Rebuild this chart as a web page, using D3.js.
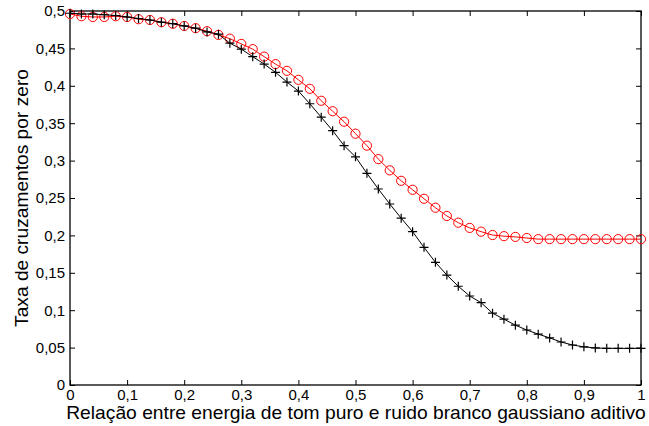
<!DOCTYPE html>
<html>
<head>
<meta charset="utf-8">
<script src="https://cdn.jsdelivr.net/npm/d3@7"></script>
<style>
  body { margin: 0; background: #fff; }
  svg text { font-family: "Liberation Sans", Arial, sans-serif; fill: #000; }
</style>
</head>
<body>
<div id="chart"></div>
<script>
// x values: 0 .. 1 step 0.02
var xValues = [0,0.02,0.04,0.06,0.08,0.1,0.12,0.14,0.16,0.18,0.2,0.22,0.24,0.26,0.28,0.3,0.32,0.34,0.36,0.38,0.4,
  0.42,0.44,0.46,0.48,0.5,0.52,0.54,0.56,0.58,0.6,0.62,0.64,0.66,0.68,0.7,0.72,0.74,0.76,0.78,0.8,
  0.82,0.84,0.86,0.88,0.9,0.92,0.94,0.96,0.98,1];

// red circles
var redValues = [0.496,0.493,0.492,0.492,0.493,0.492,0.489,0.488,0.485,0.483,0.480,0.477,0.473,0.468,0.463,0.456,0.449,0.439,0.429,0.420,0.408,
  0.396,0.380,0.366,0.352,0.336,0.320,0.302,0.287,0.273,0.261,0.249,0.237,0.226,0.217,0.210,0.205,0.2005,0.199,0.198,0.1965,
  0.195,0.195,0.195,0.195,0.195,0.195,0.195,0.195,0.195,0.195];

// black pluses
var blackValues = [0.497,0.496,0.496,0.495,0.494,0.492,0.490,0.488,0.485,0.483,0.480,0.477,0.472,0.469,0.457,0.449,0.439,0.429,0.418,0.405,0.393,
  0.376,0.358,0.340,0.320,0.305,0.283,0.262,0.242,0.223,0.205,0.184,0.164,0.147,0.132,0.119,0.110,0.096,0.088,0.080,0.0735,
  0.068,0.063,0.0575,0.0535,0.051,0.0495,0.049,0.049,0.049,0.049];

var xTicks = [0,0.1,0.2,0.3,0.4,0.5,0.6,0.7,0.8,0.9,1];
var yTicks = [0,0.05,0.1,0.15,0.2,0.25,0.3,0.35,0.4,0.45,0.5];

var xTitle = "Relação entre energia de tom puro e ruido branco gaussiano aditivo";
var yTitle = "Taxa de cruzamentos por zero";

var W = 649, H = 426;
var margin = {top: 11, right: 8, bottom: 41, left: 70};
var width = W - margin.left - margin.right;
var height = H - margin.top - margin.bottom;

var fmt = function(d){ return String(+d.toFixed(2)).replace(".", ","); };

var svg = d3.select("#chart").append("svg")
    .attr("width", W).attr("height", H)
  .append("g")
    .attr("transform", "translate(" + margin.left + "," + margin.top + ")");

var x = d3.scaleLinear().domain([0, 1]).range([0, width]);
var y = d3.scaleLinear().domain([0, 0.5]).range([height, 0]);

// axes: ticks pointing inward, mirrored on top/right
var xAxis = d3.axisBottom(x).tickValues(xTicks).tickFormat(fmt).tickSizeInner(-5).tickSizeOuter(0).tickPadding(6);
var yAxis = d3.axisLeft(y).tickValues(yTicks).tickFormat(fmt).tickSizeInner(-5).tickSizeOuter(0).tickPadding(5);
var xTop = d3.axisTop(x).tickValues(xTicks).tickFormat("").tickSizeInner(-5).tickSizeOuter(0);
var yRight = d3.axisRight(y).tickValues(yTicks).tickFormat("").tickSizeInner(-5).tickSizeOuter(0);

function styleAxis(g){
  g.select(".domain").remove();
  g.selectAll(".tick line").attr("stroke", "#000").attr("stroke-width", 1);
  g.selectAll("text").style("font-size", "15px");
}

svg.append("g").attr("transform", "translate(0," + height + ")").call(xAxis).call(styleAxis)
  .selectAll("text").attr("dy", "0.6em");
svg.append("g").call(yAxis).call(styleAxis);
svg.append("g").call(xTop).call(styleAxis);
svg.append("g").attr("transform", "translate(" + width + ",0)").call(yRight).call(styleAxis);

// box
svg.append("rect")
  .attr("x", 0).attr("y", 0).attr("width", width).attr("height", height)
  .attr("fill", "none").attr("stroke", "#000").attr("stroke-width", 1.3);

var line = d3.line()
  .x(function(d){ return x(d[0]); })
  .y(function(d){ return y(d[1]); });

var redData = xValues.map(function(v, i){ return [v, redValues[i]]; });
var blackData = xValues.map(function(v, i){ return [v, blackValues[i]]; });

// red series
svg.append("path").datum(redData).attr("d", line)
  .attr("fill", "none").attr("stroke", "#ff0000").attr("stroke-width", 1);
svg.selectAll("circle.red").data(redData).enter().append("circle")
  .attr("class", "red")
  .attr("cx", function(d){ return x(d[0]); })
  .attr("cy", function(d){ return y(d[1]); })
  .attr("r", 4.6)
  .attr("fill", "none").attr("stroke", "#ff0000").attr("stroke-width", 1);

// black series
svg.append("path").datum(blackData).attr("d", line)
  .attr("fill", "none").attr("stroke", "#000").attr("stroke-width", 1);
svg.selectAll("path.plus").data(blackData).enter().append("path")
  .attr("class", "plus")
  .attr("d", function(d){
    var cx = x(d[0]), cy = y(d[1]), s = 4.5;
    return "M" + (cx - s) + "," + cy + "H" + (cx + s) + "M" + cx + "," + (cy - s) + "V" + (cy + s);
  })
  .attr("fill", "none").attr("stroke", "#000").attr("stroke-width", 1.2);

// fit a title's font size so it spans the wanted length
function fitText(t, target){
  var len = t.node().getComputedTextLength();
  var fs = parseFloat(t.style("font-size"));
  if (len > 0) t.style("font-size", (fs * target / len) + "px");
}

// titles
var xt = svg.append("text")
  .attr("x", width / 2 + 0.5).attr("y", height + 34)
  .attr("text-anchor", "middle")
  .style("font-size", "19px")
  .text(xTitle);
fitText(xt, 580);

var yt = svg.append("text")
  .attr("transform", "translate(-42," + (height / 2) + ") rotate(-90)")
  .attr("text-anchor", "middle")
  .style("font-size", "19px")
  .text(yTitle);
fitText(yt, 258);
</script>
</body>
</html>
